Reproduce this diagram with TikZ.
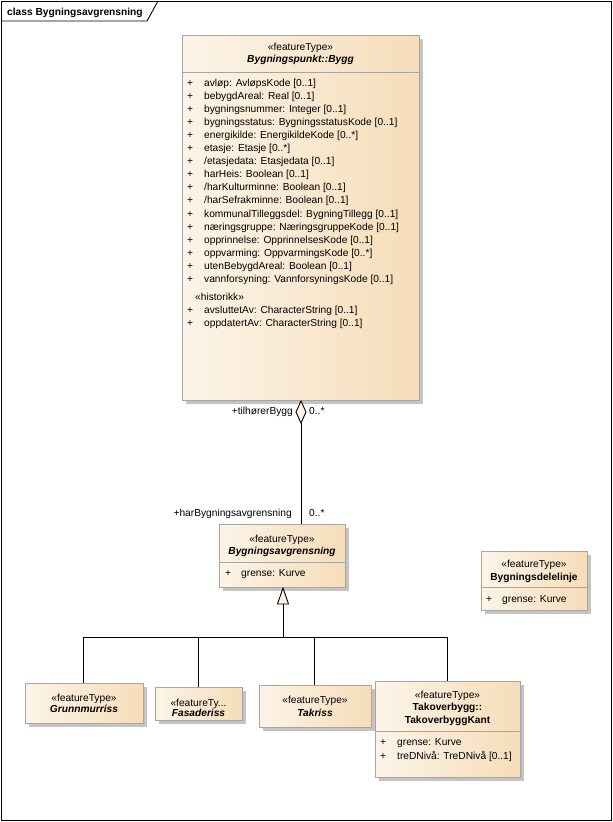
\documentclass[tikz,border=0pt]{standalone}
\usepackage{fontspec}
\setmainfont{Liberation Sans}
\usetikzlibrary{shapes.geometric}
\definecolor{boxL}{HTML}{FCF4E8}
\definecolor{boxR}{HTML}{F6DDB9}
\definecolor{boxB}{HTML}{A6A6A6}
\definecolor{shad}{HTML}{C4C4C4}
\tikzset{
  x=1pt,y=-1pt,
  txt/.style={inner sep=0pt,font=\fontsize{10.2}{12}\selectfont},
  attr/.style={txt,anchor=base west},
  ctr/.style={txt,anchor=base},
  nm/.style={txt,anchor=base,font=\fontsize{10.2}{12}\selectfont\bfseries\itshape},
  nmu/.style={txt,anchor=base,font=\fontsize{10.2}{12}\selectfont\bfseries},
  lbl/.style={txt},
  classbox/.style={left color=boxL,right color=boxR,draw=boxB,line width=0.8pt},
  sep/.style={draw=boxB,line width=0.8pt},
  conn/.style={draw=black,line width=0.9pt},
}
\newcommand{\umlbox}[5]{%
  \fill[shad] (#1+4,#2+4) rectangle (#3+4,#4+4);
  \path[classbox] (#1,#2) rectangle (#3,#4);
  \coordinate (#5-nw) at (#1,#2);
  \coordinate (#5-se) at (#3,#4);
}
\begin{document}
\begin{tikzpicture}
\useasboundingbox (0,0) rectangle (613,822);
\fill[white] (0,0) rectangle (613,822);
% frame
\draw[black,line width=0.9pt] (1,1) rectangle (611,820);
\draw[black,line width=0.9pt] (1,21) -- (147,21) -- (158,1);
\node[txt,anchor=base west,font=\fontsize{10.2}{12}\selectfont\bfseries] (title) at (7,15) {class Bygningsavgrensning};

% Bygg
\umlbox{182}{35}{419}{400}{bygg}
\node[ctr] (byggst) at (300.5,50) {«featureType»};
\node[nm] (byggnm) at (300.5,62) {Bygningspunkt::Bygg};
\draw[sep] (182,72) -- (419,72);
\foreach \t [count=\i from 0] in {%
 {avløp: AvløpsKode [0..1]},
 {bebygdAreal: Real [0..1]},
 {bygningsnummer: Integer [0..1]},
 {bygningsstatus: BygningsstatusKode [0..1]},
 {energikilde: EnergikildeKode [0..*]},
 {etasje: Etasje [0..*]},
 {/etasjedata: Etasjedata [0..1]},
 {harHeis: Boolean [0..1]},
 {/harKulturminne: Boolean [0..1]},
 {/harSefrakminne: Boolean [0..1]},
 {kommunalTilleggsdel: BygningTillegg [0..1]},
 {næringsgruppe: NæringsgruppeKode [0..1]},
 {opprinnelse: OpprinnelsesKode [0..1]},
 {oppvarming: OppvarmingsKode [0..*]},
 {utenBebygdAreal: Boolean [0..1]},
 {vannforsyning: VannforsyningsKode [0..1]}}{
  \node[attr] (bp\i) at (187,86.5+13.05*\i) {+};
  \node[attr] (ba\i) at (204,86.5+13.05*\i) {\t};
}
\node[attr] (hist) at (195,300) {«historikk»};
\node[attr] (hp1) at (187,313) {+};
\node[attr] (h1) at (204,313) {avsluttetAv: CharacterString [0..1]};
\node[attr] (hp2) at (187,326) {+};
\node[attr] (h2) at (204,326) {oppdatertAv: CharacterString [0..1]};

% Bygningsavgrensning
\umlbox{219}{524}{345}{587}{bavg}
\node[ctr] (bavgst) at (282,542) {«featureType»};
\node[nm] (bavgnm) at (282,554) {Bygningsavgrensning};
\draw[sep] (219,562) -- (345,562);
\node[attr] (bavgp) at (225,576) {+};
\node[attr] (bavga) at (241,576) {grense: Kurve};

% Bygningsdelelinje
\umlbox{481}{551}{587}{610}{bdl}
\node[ctr] (bdlst) at (534,567) {«featureType»};
\node[nmu] (bdlnm) at (534,580) {Bygningsdelelinje};
\draw[sep] (481,587) -- (587,587);
\node[attr] (bdlp) at (486,602) {+};
\node[attr] (bdla) at (502,602) {grense: Kurve};

% Grunnmurriss
\umlbox{25}{683}{143}{723}{gm}
\node[ctr] (gmst) at (84,701) {«featureType»};
\node[nm] (gmnm) at (84,712) {Grunnmurriss};

% Fasaderiss
\umlbox{155}{687}{242}{720}{fa}
\node[ctr] (fast) at (198.5,706) {«featureTy...};
\node[nm] (fanm) at (198.5,716) {Fasaderiss};

% Takriss
\umlbox{259}{685}{371}{727}{ta}
\node[ctr] (tast) at (315,703) {«featureType»};
\node[nm] (tanm) at (315,716) {Takriss};

% Takoverbygg
\umlbox{375}{681}{520}{777}{tk}
\node[ctr] (tkst) at (447.5,698) {«featureType»};
\node[nmu] (tknm1) at (447.5,710) {Takoverbygg::};
\node[nmu] (tknm2) at (447.5,723) {TakoverbyggKant};
\draw[sep] (375,731) -- (520,731);
\node[attr] (tkp1) at (380,745) {+};
\node[attr] (tka1) at (397,745) {grense: Kurve};
\node[attr] (tkp2) at (380,759) {+};
\node[attr] (tka2) at (397,759) {treDNivå: TreDNivå [0..1]};

% aggregation
\coordinate (dtop) at (301,401);
\coordinate (dbot) at (301,423);
\path[draw=black,fill=boxL,line width=0.9pt] (301,401) -- (306,412) -- (301,423) -- (296,412) -- cycle;
\coordinate (bavgtop) at (301,524);
\draw[conn] (dbot) -- (bavgtop);
\node[lbl,anchor=east] (l1) at (293,412) {+tilhørerBygg};
\node[lbl,anchor=west] (l2) at (309,411) {0..*};
\node[lbl,anchor=east] (l3) at (292,514) {+harBygningsavgrensning};
\node[lbl,anchor=west] (l4) at (309,513) {0..*};

% generalization
\coordinate (apex) at (283,588);
\coordinate (tbase) at (283,604);
\coordinate (bus) at (283,637);
\path[draw=black,fill=boxL,line width=0.9pt] (283,588) -- (288.5,604) -- (277.5,604) -- cycle;
\draw[conn] (tbase) -- (bus);
\draw[conn] (83,683) -- (83,637) -- (447,637) -- (447,681);
\draw[conn] (198,637) -- (198,687);
\draw[conn] (314,637) -- (314,685);
\end{tikzpicture}
\end{document}
